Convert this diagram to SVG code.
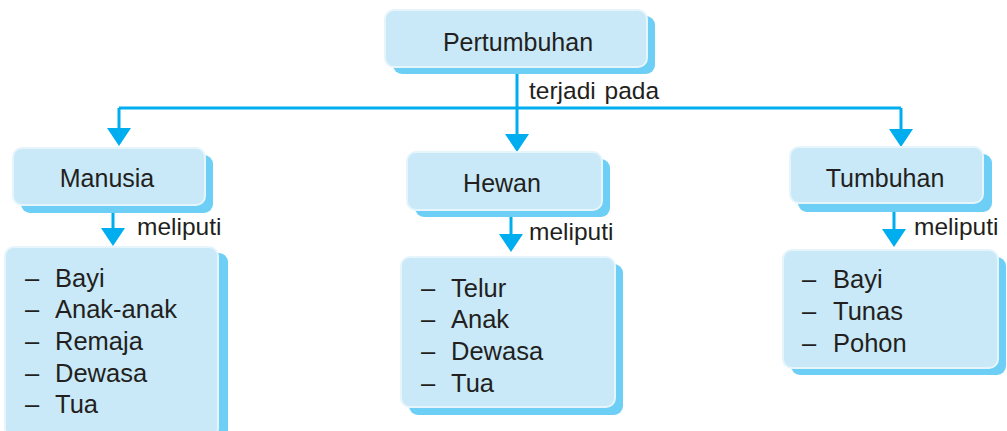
<svg xmlns="http://www.w3.org/2000/svg" width="1007" height="431" viewBox="0 0 1007 431">
<style>
.sh{fill:#6dcff6}
.bx{fill:#c9e9f8;stroke:#e6f5fc;stroke-width:2}
.t{font-family:"Liberation Sans",Arial,sans-serif;fill:#231f20}
.n{font-size:25px}
.l{font-size:25.5px}
.lb{font-size:24.5px}
.ln{stroke:#00aeef;stroke-width:3;fill:none}
.ah{fill:#00aeef}
</style>
<rect width="1007" height="431" fill="#ffffff"/>
<g id="connectors">
<path class="ln" d="M517,70 V136 M119,108 H901 M119,108 V130 M901,108 V131 M113,207 V230 M511,212 V236 M894,207 V230"/>
<polygon class="ah" points="107,128 131,128 119,146"/>
<polygon class="ah" points="505,134 529,134 517,152"/>
<polygon class="ah" points="889,129 913,129 901,147"/>
<polygon class="ah" points="101,228 125,228 113,246"/>
<polygon class="ah" points="499,234 523,234 511,252"/>
<polygon class="ah" points="882,229 906,229 894,247"/>
<text class="t lb" x="529" y="99" word-spacing="2">terjadi pada</text>
<text class="t lb" x="137" y="235">meliputi</text>
<text class="t lb" x="529" y="240">meliputi</text>
<text class="t lb" x="914" y="235">meliputi</text>
</g>
<g id="pertumbuhan">
<rect class="sh" x="393" y="16" width="262" height="58" rx="9"/>
<rect class="bx" x="385" y="10" width="262" height="57" rx="9"/>
<text class="t n" x="518" y="51" text-anchor="middle">Pertumbuhan</text>
</g>
<g id="manusia">
<rect class="sh" x="21" y="155" width="192" height="58" rx="9"/>
<rect class="bx" x="13" y="148" width="192" height="57" rx="9"/>
<text class="t n" x="107" y="187" text-anchor="middle">Manusia</text>
</g>
<g id="hewan">
<rect class="sh" x="415" y="159" width="195" height="58" rx="9"/>
<rect class="bx" x="407" y="152" width="195" height="58" rx="9"/>
<text class="t n" x="502" y="192" text-anchor="middle">Hewan</text>
</g>
<g id="tumbuhan">
<rect class="sh" x="798" y="154" width="194" height="58" rx="9"/>
<rect class="bx" x="790" y="147" width="193" height="56" rx="9"/>
<text class="t n" x="885" y="187" text-anchor="middle">Tumbuhan</text>
</g>
<g id="list-manusia">
<rect class="sh" x="14" y="253" width="214" height="190" rx="9"/>
<rect class="bx" x="5" y="247" width="213" height="190" rx="9"/>
<text class="t l" x="25" y="287">–</text><text class="t l" x="55" y="287">Bayi</text>
<text class="t l" x="25" y="318">–</text><text class="t l" x="55" y="318">Anak-anak</text>
<text class="t l" x="25" y="350">–</text><text class="t l" x="55" y="350">Remaja</text>
<text class="t l" x="25" y="382">–</text><text class="t l" x="55" y="382">Dewasa</text>
<text class="t l" x="25" y="413">–</text><text class="t l" x="55" y="413">Tua</text>
</g>
<g id="list-hewan">
<rect class="sh" x="409" y="264" width="214" height="151" rx="9"/>
<rect class="bx" x="401" y="257" width="214" height="150" rx="9"/>
<text class="t l" x="421" y="297">–</text><text class="t l" x="451" y="297">Telur</text>
<text class="t l" x="421" y="328">–</text><text class="t l" x="451" y="328">Anak</text>
<text class="t l" x="421" y="360">–</text><text class="t l" x="451" y="360">Dewasa</text>
<text class="t l" x="421" y="392">–</text><text class="t l" x="451" y="392">Tua</text>
</g>
<g id="list-tumbuhan">
<rect class="sh" x="791" y="257" width="215" height="118" rx="9"/>
<rect class="bx" x="783" y="250" width="215" height="118" rx="9"/>
<text class="t l" x="802" y="288">–</text><text class="t l" x="833" y="288">Bayi</text>
<text class="t l" x="802" y="320">–</text><text class="t l" x="833" y="320">Tunas</text>
<text class="t l" x="802" y="352">–</text><text class="t l" x="833" y="352">Pohon</text>
</g>
</svg>
